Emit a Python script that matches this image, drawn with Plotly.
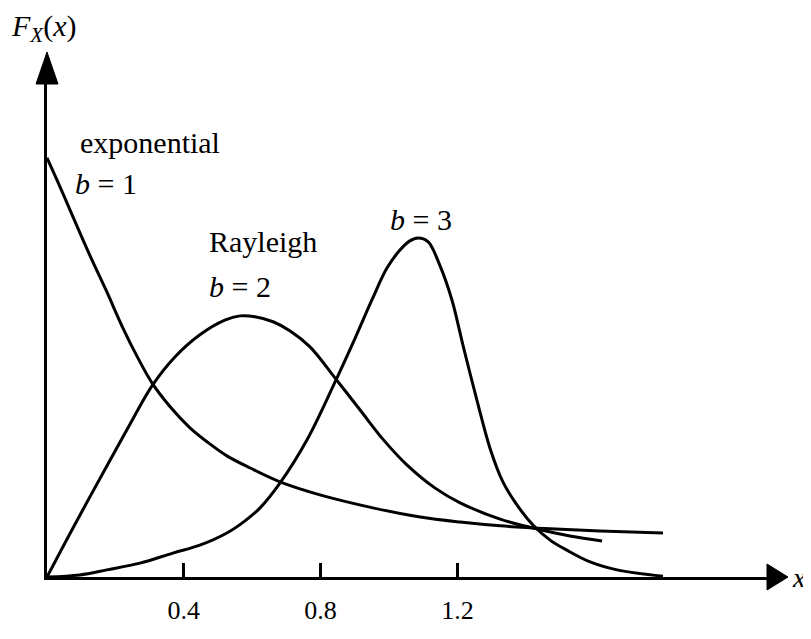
import plotly.graph_objects as go

# ---- data (x in units of the horizontal axis, y in density units) ----
exp_x = [0.0, 0.038, 0.076, 0.126, 0.175, 0.222, 0.263, 0.307, 0.360, 0.418, 0.477,
         0.526, 0.594, 0.681, 0.798, 0.953, 1.091, 1.208, 1.325, 1.471, 1.617, 1.801]
exp_y = [1.000, 0.931, 0.859, 0.766, 0.680, 0.594, 0.527, 0.463, 0.406, 0.356, 0.317,
         0.289, 0.260, 0.227, 0.196, 0.165, 0.143, 0.131, 0.122, 0.115, 0.110, 0.105]

ray_x = [0.0, 0.076, 0.175, 0.243, 0.307, 0.374, 0.447, 0.520, 0.564, 0.608, 0.661,
         0.711, 0.769, 0.842, 0.915, 0.982, 1.053, 1.135, 1.208, 1.325, 1.421, 1.529, 1.623]
ray_y = [0.0, 0.117, 0.265, 0.365, 0.456, 0.525, 0.578, 0.613, 0.623, 0.621, 0.609,
         0.587, 0.549, 0.475, 0.399, 0.329, 0.267, 0.212, 0.177, 0.138, 0.117, 0.098, 0.086]

b3_x = [0.0, 0.096, 0.175, 0.272, 0.368, 0.447, 0.526, 0.579, 0.623, 0.681, 0.760,
        0.842, 0.901, 0.950, 0.994, 1.032, 1.061, 1.085, 1.114, 1.149, 1.184, 1.216,
        1.257, 1.295, 1.333, 1.374, 1.421, 1.471, 1.520, 1.588, 1.667, 1.801]
b3_y = [0.0, 0.005, 0.017, 0.033, 0.057, 0.076, 0.105, 0.134, 0.165, 0.224, 0.327,
        0.465, 0.570, 0.661, 0.737, 0.780, 0.802, 0.809, 0.800, 0.743, 0.661, 0.554,
        0.422, 0.308, 0.227, 0.172, 0.124, 0.088, 0.064, 0.036, 0.017, 0.002]

tick_vals = [0.4, 0.8, 1.2]
tick_text = ["0.4", "0.8", "1.2"]

labels = [
    # text, x, y
    ("exponential", 0.091, 1.036),
    ("<i>b</i> = 1", 0.076, 0.940),
    ("Rayleigh", 0.468, 0.800),
    ("<i>b</i> = 2", 0.468, 0.692),
    ("<i>b</i> = 3", 0.997, 0.852),
]

SERIF = "Liberation Serif, Times New Roman, serif"

fig = go.Figure()
for xs, ys, name in [(exp_x, exp_y, "b=1"), (ray_x, ray_y, "b=2"), (b3_x, b3_y, "b=3")]:
    fig.add_trace(go.Scatter(x=xs, y=ys, mode="lines", name=name,
                             line=dict(color="black", width=3, shape="spline", smoothing=1.0),
                             showlegend=False, hoverinfo="skip"))

for text, x, y in labels:
    fig.add_annotation(x=x, y=y, xref="x", yref="y", text=text, showarrow=False,
                       xanchor="left", yanchor="middle",
                       font=dict(family=SERIF, size=30, color="black"))

# axis titles
fig.add_annotation(xref="paper", yref="paper", x=0.0, y=1.0, xshift=-38, yshift=54,
                   text="<i>F</i><sub><i>X</i></sub>(<i>x</i>)", showarrow=False,
                   xanchor="left", yanchor="middle",
                   font=dict(family=SERIF, size=30, color="black"))
fig.add_annotation(xref="paper", yref="paper", x=1.0, y=0.0, xshift=20,
                   text="<i>x</i>", showarrow=False,
                   xanchor="left", yanchor="middle",
                   font=dict(family=SERIF, size=28, color="black"))

# arrowheads on the axes
fig.add_shape(type="path", xref="paper", yref="paper", xsizemode="pixel", ysizemode="pixel",
              xanchor=1, yanchor=0, path="M -3,-13 L 18,0 L -3,13 Z",
              fillcolor="black", line=dict(color="black", width=1))
fig.add_shape(type="path", xref="paper", yref="paper", xsizemode="pixel", ysizemode="pixel",
              xanchor=0, yanchor=1, path="M -11,-2 L 0,30 L 11,-2 Z",
              fillcolor="black", line=dict(color="black", width=1))

fig.update_xaxes(range=[0, 2.114], showgrid=False, zeroline=False, showline=True,
                 linecolor="black", linewidth=3, ticks="inside", ticklen=14, tickwidth=3,
                 tickcolor="black", tickvals=tick_vals, ticktext=tick_text,
                 tickfont=dict(family=SERIF, size=26, color="black"),
                 ticklabelstandoff=8, fixedrange=True, automargin=False)
fig.update_yaxes(range=[0, 1.181], showgrid=False, zeroline=False, showline=True,
                 linecolor="black", linewidth=3, ticks="", showticklabels=False,
                 fixedrange=True, automargin=False)

# the page body has an 8 px margin, so the figure is smaller and offset by 8 px
fig.update_layout(width=803, height=623, autosize=False,
                  margin=dict(l=39, r=41, t=74, b=54),
                  paper_bgcolor="white", plot_bgcolor="white")

fig.write_html("out.html")
